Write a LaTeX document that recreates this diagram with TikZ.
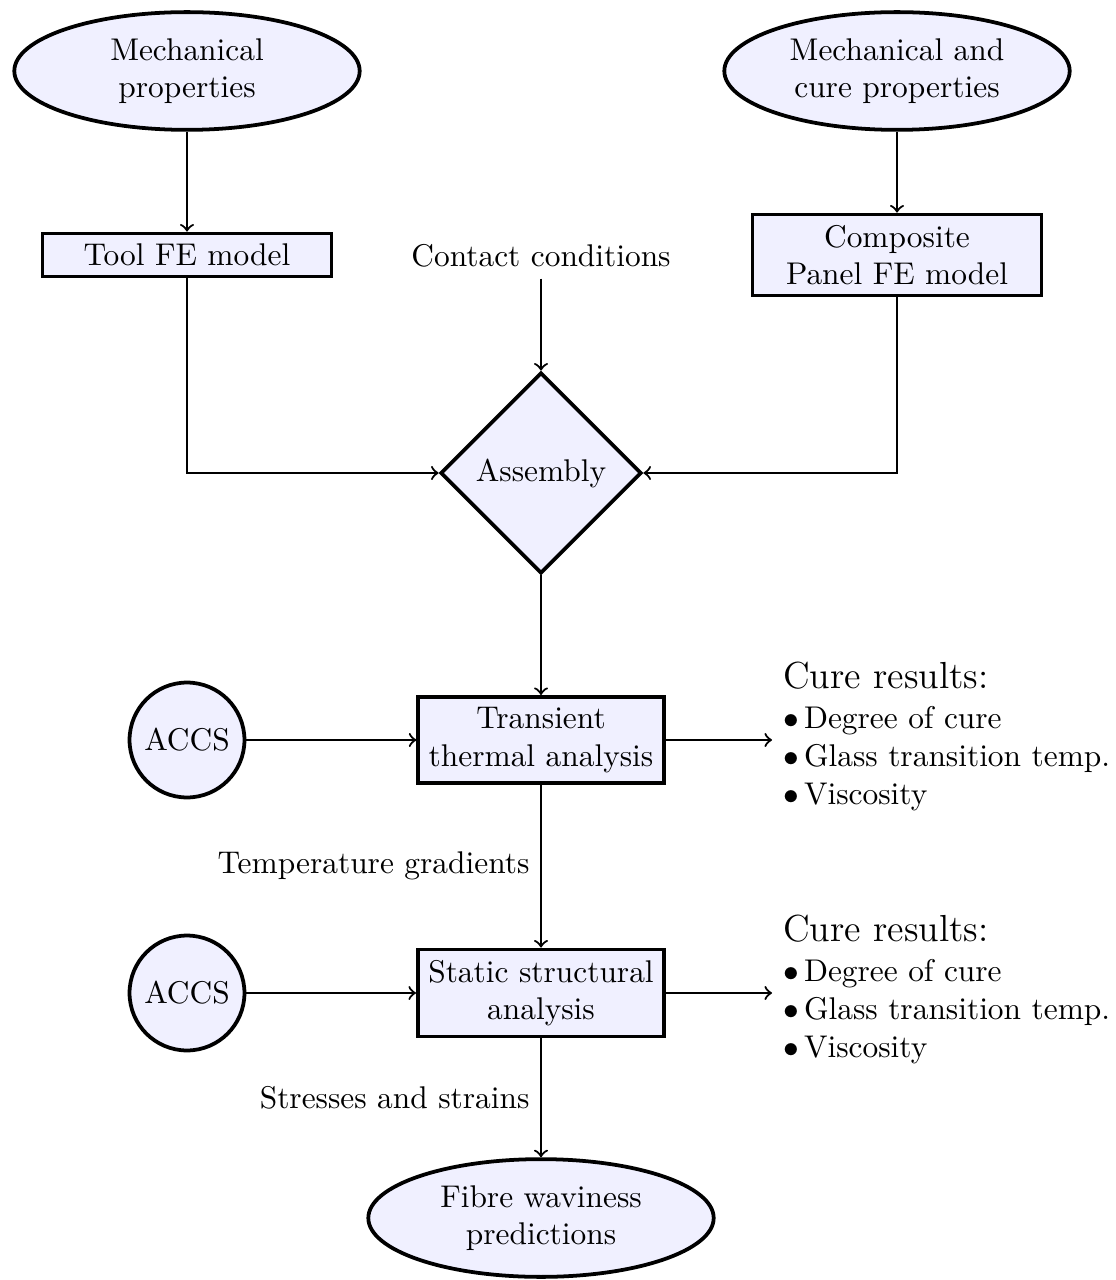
\documentclass[tikz,border=0pt]{standalone}
\usetikzlibrary{shapes.geometric}
\begin{document}
\begin{tikzpicture}[x=0.3185pt, y=-0.3185pt,
  box/.style={draw, very thick, fill=blue!6, rectangle, align=center},
  oval/.style={draw, very thick, fill=blue!6, ellipse, align=center, minimum width=110pt, minimum height=37.5pt, inner sep=0pt},
  dia/.style={draw, very thick, fill=blue!6, diamond, aspect=1},
  circ/.style={draw, very thick, fill=blue!6, circle},
  arr/.style={->, line width=0.7pt},
  result/.style={align=left, anchor=west}]
\useasboundingbox (0,0) rectangle (1116,1280);

\node[oval] (mech) at (187,71) {Mechanical\\properties};
\node[oval] (mechcure) at (897,71) {Mechanical and\\cure properties};
\node[box, text width=3cm] (tool) at (187,255) {Tool FE model};
\node[box, text width=3cm] (comp) at (897,255) {Composite\\Panel FE model};
\node (contact) at (541,256) {Contact conditions};
\node[dia] (asm) at (541,473) {Assembly};
\node[box] (trans) at (541,740) {Transient\\thermal analysis};
\node[box] (static) at (541,993) {Static structural\\analysis};
\node[circ] (accs1) at (187,740) {ACCS};
\node[circ] (accs2) at (187,993) {ACCS};
\node[result] (res1) at (772,736.5) {{\large Cure results:}\\[0.7pt]$\bullet$\,Degree of cure\\$\bullet$\,Glass transition temp.\\$\bullet$\,Viscosity};
\node[result] (res2) at (772,989.5) {{\large Cure results:}\\[0.7pt]$\bullet$\,Degree of cure\\$\bullet$\,Glass transition temp.\\$\bullet$\,Viscosity};
\node[oval] (fibre) at (541,1218) {Fibre waviness\\predictions};

\draw[arr] (mech) -- (tool);
\draw[arr] (mechcure) -- (comp);
\draw[arr] (contact) -- (asm);
\draw[arr] (tool) |- (asm);
\draw[arr] (comp) |- (asm);
\draw[arr] (asm) -- (trans);
\draw[arr] (accs1) -- (trans);
\draw[arr] (trans) -- (trans -| res1.west);
\draw[arr] (trans) -- node[midway, left] (tg) {Temperature gradients} (static);
\draw[arr] (accs2) -- (static);
\draw[arr] (static) -- (static -| res2.west);
\draw[arr] (static) -- node[midway, left] (ss) {Stresses and strains} (fibre);
\end{tikzpicture}
\end{document}
